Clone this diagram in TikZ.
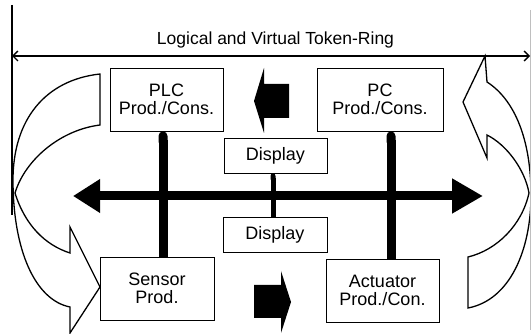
\documentclass[tikz,border=0pt]{standalone}
\usepackage{fontspec}
\setmainfont{Liberation Sans}
\usetikzlibrary{arrows.meta}

\tikzset{
  station/.style={draw, fill=white, line width=0.8pt, align=center, inner sep=0pt,
    font=\fontsize{18}{18.5}\selectfont},
  ringarrow/.style={draw, fill=white, line width=1.3pt, line join=miter},
  bus/.style={line width=9pt},
  stem/.style={line width=9pt, {Round Cap}-},
  dimline/.style={line width=1.3pt},
}

\begin{document}
\begin{tikzpicture}[x=1pt, y=-1pt]
  \useasboundingbox (0,0) rectangle (531,334);

  % curved arrows of the token ring
  \path[ringarrow] (100,74) .. controls (45,80) and (13,120) .. (13,180)
    .. controls (13,250) and (35,300) .. (70,307)
    -- (70,333) -- (100,287) -- (70,227) -- (70,253)
    .. controls (45,245) and (25,225) .. (15,193)
    .. controls (25,160) and (60,130) .. (100,125) -- cycle;
  \path[ringarrow] (485,56) -- (463,102) -- (487,158) -- (487,135)
    .. controls (507,145) and (525,170) .. (529,193)
    .. controls (522,225) and (497,250) .. (468,257)
    -- (468,308)
    .. controls (510,300) and (531,250) .. (531,195)
    .. controls (531,140) and (515,100) .. (487,82) -- cycle;

  % dimension line with its extension lines
  \draw[dimline] (12,5) -- (12,215);
  \draw[dimline, black!25, line width=1pt] (530.5,10) -- (530.5,330);
  \coordinate (ringL) at (12,56);
  \coordinate (ringR) at (530,56);
  \draw[dimline, {Straight Barb[length=5pt,width=10pt]}-{Straight Barb[length=5pt,width=10pt]}]
    (ringL) -- (ringR);
  \node[anchor=base, font=\fontsize{17.5}{18.5}\selectfont] (ring) at (275.5,45)
    {Logical and Virtual Token-Ring};

  % stations
  \node[station, minimum width=113pt, minimum height=63pt] (plc) at (166.5,99.5) {PLC\\Prod./Cons.};
  \node[station, minimum width=126pt, minimum height=63pt] (pc) at (380,99.5) {PC\\Prod./Cons.};
  \node[station, minimum width=103pt, minimum height=35pt] (disp1) at (275.5,155.5) {Display};
  \node[station, minimum width=104pt, minimum height=35pt] (disp2) at (275,234.5) {Display};
  \node[station, minimum width=114pt, minimum height=63pt] (sensor) at (157,288.5) {Sensor\\Prod.};
  \node[station, minimum width=113pt, minimum height=63pt] (act) at (382.5,290.5) {Actuator\\Prod./Con.};

  % bus
  \coordinate (busL) at (73,196);
  \coordinate (busR) at (483,196);
  \draw[bus, {Triangle[length=27pt,width=32pt]}-{Triangle[length=31pt,width=33pt]}] (busL) -- (busR);
  \draw[stem] (163,0 |- plc.south) -- (163,0 |- sensor.north);
  \draw[stem] (391,0 |- pc.south) -- (391,0 |- act.north);
  \draw[stem, line width=5pt] (273,0 |- disp1.south) -- (273,0 |- disp2.north);

  % token passing direction
  \fill (289,84) -- (264,84) -- (264,68) -- (254,101) -- (264,133) -- (264,118) -- (289,118) -- cycle;
  \fill (254,285) -- (281,285) -- (281,271) -- (291,302) -- (281,333) -- (281,318) -- (254,318) -- cycle;
\end{tikzpicture}
\end{document}
